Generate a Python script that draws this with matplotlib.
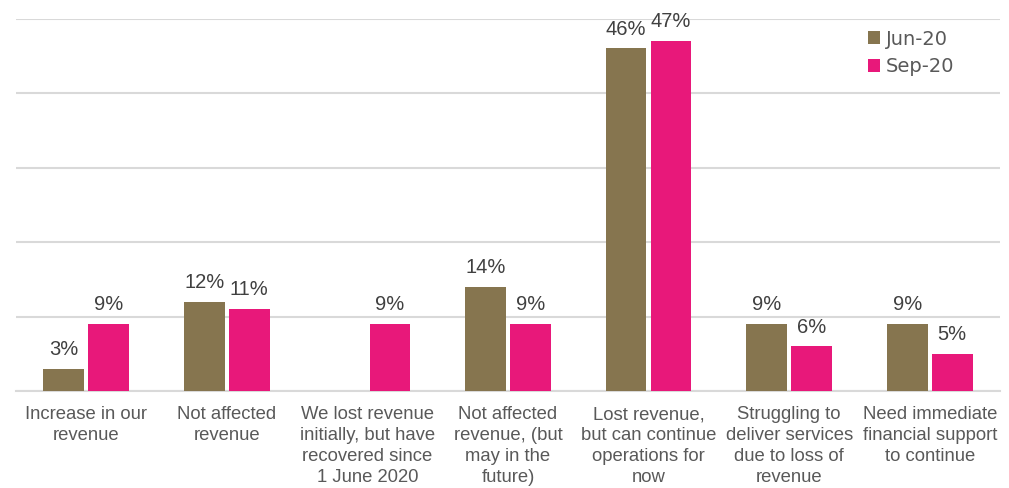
import matplotlib
matplotlib.use("Agg")
import matplotlib.pyplot as plt
import numpy as np

categories = [
    "Increase in our\nrevenue",
    "Not affected\nrevenue",
    "We lost revenue\ninitially, but have\nrecovered since\n1 June 2020",
    "Not affected\nrevenue, (but\nmay in the\nfuture)",
    "Lost revenue,\nbut can continue\noperations for\nnow",
    "Struggling to\ndeliver services\ndue to loss of\nrevenue",
    "Need immediate\nfinancial support\nto continue",
]
jun20 = [3, 12, None, 14, 46, 9, 9]
sep20 = [9, 11, 9, 9, 47, 6, 5]
series_names = ["Jun-20", "Sep-20"]

col_jun = "#86754F"
col_sep = "#E8187A"
grid_col = "#D9D9D9"

W, H = 1009, 488
fig = plt.figure(figsize=(W / 100, H / 100), dpi=100)
ax = fig.add_axes([16 / W, (H - 391) / H, (1000 - 16) / W, (391 - 18.5) / H])

x = np.arange(len(categories))
bw = 0.29
gap = 0.015

def draw(vals, offset, color, name):
    xs = [xi + offset for xi, v in zip(x, vals) if v is not None]
    vs = [v for v in vals if v is not None]
    bars = ax.bar(xs, vs, width=bw, color=color, label=name, zorder=3)
    for b, v in zip(bars, vs):
        ax.annotate(f"{v}%", (b.get_x() + b.get_width() / 2, v),
                    xytext=(0, 7), textcoords="offset points",
                    ha="center", va="bottom", fontsize=14.5,
                    color="#404040", family="Liberation Sans",
                    annotation_clip=False)

draw(jun20, -(bw / 2 + gap), col_jun, series_names[0])
draw(sep20, (bw / 2 + gap), col_sep, series_names[1])

ax.set_xlim(-0.5, len(categories) - 0.5)
ax.set_ylim(0, 50)
ax.set_yticks(np.arange(0, 51, 10))
ax.yaxis.grid(True, color=grid_col, linewidth=1.5, zorder=0)
ax.set_axisbelow(True)
ax.tick_params(axis="y", left=False, labelleft=False)
ax.tick_params(axis="x", length=0, pad=11)
ax.set_xticks(x)
ax.set_xticklabels(categories, fontsize=13.3, color="#595959",
                   family="Liberation Sans", linespacing=1.3, va="top")
for s in ["top", "right", "left"]:
    ax.spines[s].set_visible(False)
ax.spines["bottom"].set_color(grid_col)
ax.spines["bottom"].set_linewidth(1.5)

leg = ax.legend(loc="upper left", bbox_to_anchor=(858 / W, (H - 20) / H),
                bbox_transform=fig.transFigure, frameon=False,
                prop={"family": "DejaVu Sans", "size": 14},
                handlelength=0.65, handleheight=0.65, handletextpad=0.3,
                labelspacing=0.45, borderpad=0)
for t in leg.get_texts():
    t.set_color("#595959")

fig.savefig("out.png", dpi=100)
